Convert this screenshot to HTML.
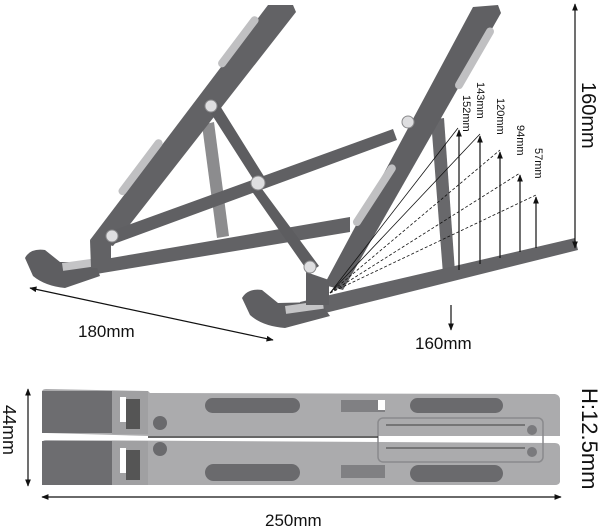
<!DOCTYPE html>
<html><head><meta charset="utf-8"><style>
html,body{margin:0;padding:0;background:#fff;}
svg{display:block;font-family:"Liberation Sans",sans-serif;}
</style></head><body>
<svg width="600" height="530" viewBox="0 0 600 530" xmlns="http://www.w3.org/2000/svg">
<defs>
<marker id="ah" viewBox="0 0 10 10" refX="9" refY="5" markerWidth="6" markerHeight="6" orient="auto-start-reverse"><path d="M0,1 L10,5 L0,9 z" fill="#111"/></marker>
</defs>
<polygon points="202,125 214,122 229,236 217,238" fill="#8c8c8e"/>
<polygon points="88,262 350,217 350,232 66,279" fill="#626265"/>
<path d="M25,258 Q30,248 45,250 L60,262 L95,262 L100,276 L65,288 Q45,286 33,276 Z" fill="#5e5e61"/>
<rect x="62" y="263" width="35" height="8" fill="#c4c4c6" transform="rotate(-8 62 263)"/>
<polygon points="268,5 293,5 296,12 113,246 90,240" fill="#626265"/>
<polygon points="90,240 111,243 111,268 91,268" fill="#626265"/>
<rect x="-4" y="0" width="8" height="62" rx="4" fill="#c0c0c2" transform="translate(257,17) rotate(37)"/>
<rect x="-4" y="0" width="8" height="68" rx="4" fill="#c0c0c2" transform="translate(161,140) rotate(37)"/>
<polygon points="106,233 393,129 397,140 111,245" fill="#606063"/>
<polygon points="205,104 217,101 265,178 262,189 319,266 309,273 251,190 253,179" fill="#5d5d60"/>
<polygon points="431,120 444,118 455,272 443,274" fill="#68686b"/>
<polygon points="300,302 575,238 578,250 305,318" fill="#646467"/>
<path d="M242,298 Q248,288 262,290 L278,303 L320,302 L330,316 L285,328 Q262,326 250,315 Z" fill="#5f5f62"/>
<rect x="285" y="306" width="38" height="8" fill="#c4c4c6" transform="rotate(-8 285 306)"/>
<polygon points="473,7 498,5 501,13 343,290 324,285" fill="#606063"/>
<polygon points="306,272 329,280 329,305 306,305" fill="#5f5f62"/>
<rect x="-4" y="0" width="8" height="70" rx="4" fill="#c0c0c2" transform="translate(492,28) rotate(30)"/>
<rect x="-4" y="0" width="8" height="72" rx="4" fill="#c0c0c2" transform="translate(394,165) rotate(33)"/>
<g fill="#dedee0" stroke="#8a8a8c" stroke-width="1">
<circle cx="211" cy="106" r="6"/><circle cx="258" cy="183" r="7"/><circle cx="112" cy="236" r="6"/>
<circle cx="408" cy="122" r="6"/><circle cx="310" cy="267" r="6"/>
</g>
<g stroke="#111" stroke-width="0.8" fill="none">
<line x1="330" y1="293" x2="458" y2="128"/>
<line x1="330" y1="293" x2="480" y2="134"/>
<line x1="330" y1="293" x2="500" y2="150" stroke-dasharray="3,2"/>
<line x1="330" y1="293" x2="520" y2="173" stroke-dasharray="3,2"/>
<line x1="330" y1="293" x2="536" y2="195" stroke-dasharray="3,2"/>
</g>
<g stroke="#111" stroke-width="1.2">
<line x1="459" y1="270" x2="459" y2="130" marker-end="url(#ah)"/>
<line x1="480" y1="264" x2="480" y2="136" marker-end="url(#ah)"/>
<line x1="500" y1="258" x2="500" y2="152" marker-end="url(#ah)"/>
<line x1="520" y1="252" x2="520" y2="175" marker-end="url(#ah)"/>
<line x1="536" y1="248" x2="536" y2="197" marker-end="url(#ah)"/>
<line x1="575" y1="4" x2="575" y2="248" marker-start="url(#ah)" marker-end="url(#ah)"/>
<line x1="451" y1="305" x2="451" y2="330" marker-end="url(#ah)"/>
<line x1="30" y1="288" x2="273" y2="340" marker-start="url(#ah)" marker-end="url(#ah)"/>
<line x1="28" y1="389" x2="28" y2="486" marker-start="url(#ah)" marker-end="url(#ah)"/>
<line x1="42" y1="497" x2="561" y2="497" marker-start="url(#ah)" marker-end="url(#ah)"/>
</g>
<g font-size="11" fill="#111">
<text transform="translate(463,95) rotate(90)">152mm</text>
<text transform="translate(477,82) rotate(90)">143mm</text>
<text transform="translate(497,98) rotate(90)">120mm</text>
<text transform="translate(517,125) rotate(90)">94mm</text>
<text transform="translate(535,148) rotate(90)">57mm</text>
</g>
<text transform="translate(582,82) rotate(90)" font-size="20" fill="#111">160mm</text>
<text x="78" y="337" font-size="17" fill="#111">180mm</text>
<text x="415" y="349" font-size="17" fill="#111">160mm</text>
<g>
<path d="M42,392 Q42,389 46,389 L148,391 L150,393 L555,394 Q560,395 560,400 L560,436 L150,436 L46,433 Q42,433 42,430 Z" fill="#ababad"/>
<path d="M46,440 L555,443 Q560,443 560,448 L560,482 Q559,485 555,485 L46,485 Q42,485 42,481 L42,444 Q42,440 46,440 Z" fill="#ababad"/>
<rect x="42" y="391" width="70" height="42" fill="#6d6d70"/>
<rect x="42" y="441" width="70" height="44" fill="#6d6d70"/>
<rect x="112" y="391" width="36" height="43" fill="#a0a0a2"/>
<rect x="112" y="441" width="36" height="44" fill="#a0a0a2"/>
<rect x="120" y="397" width="6" height="25" fill="#fff"/><rect x="126" y="399" width="14" height="30" fill="#555"/>
<rect x="120" y="448" width="6" height="25" fill="#fff"/><rect x="126" y="450" width="14" height="30" fill="#555"/>
<g fill="#6a6a6d">
<rect x="205" y="398" width="95" height="15" rx="7.5"/>
<rect x="410" y="398" width="93" height="15" rx="7.5"/>
<rect x="205" y="464" width="95" height="17" rx="8.5"/>
<rect x="410" y="465" width="93" height="17" rx="8.5"/>
<circle cx="160" cy="423" r="7"/><circle cx="160" cy="449" r="7"/>
</g>
<rect x="341" y="400" width="44" height="12" fill="#808083"/><rect x="378" y="400" width="7" height="10" fill="#fff"/>
<rect x="341" y="465" width="44" height="13" fill="#808083"/>
<rect x="378" y="418" width="165" height="44" rx="5" fill="none" stroke="#8a8a8d" stroke-width="1.5"/>
<line x1="386" y1="425" x2="525" y2="425" stroke="#555" stroke-width="1.2"/>
<line x1="386" y1="448" x2="525" y2="448" stroke="#555" stroke-width="1.2"/>
<circle cx="532" cy="430" r="5" fill="#7a7a7d"/><circle cx="532" cy="452" r="5" fill="#7a7a7d"/>
<line x1="148" y1="437" x2="378" y2="437" stroke="#333" stroke-width="1.5"/>
</g>
<text transform="translate(3,405) rotate(90)" font-size="18" fill="#111">44mm</text>
<text transform="translate(582,388) rotate(90)" font-size="22" fill="#111">H:12.5mm</text>
<text x="265" y="526" font-size="17" fill="#111">250mm</text>
</svg>
</body></html>
